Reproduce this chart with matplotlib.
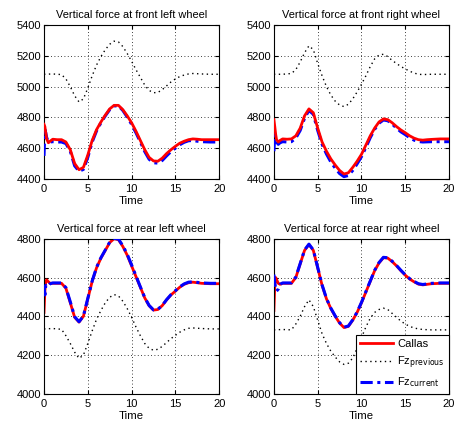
import matplotlib
matplotlib.use('Agg')
import matplotlib.pyplot as plt

plt.rcParams['font.family'] = ['Liberation Sans', 'DejaVu Sans']

# time bases
t = [0, 0.1, 0.2, 0.3, 0.5, 0.7, 1, 1.5, 2, 2.5, 3, 3.5, 4, 4.5, 5,
     5.5, 6, 6.5, 7, 7.5, 8, 8.5, 9, 9.5, 10, 10.5, 11, 11.5, 12, 12.5,
     13, 13.5, 14, 14.5, 15, 15.5, 16, 16.5, 17, 17.5, 18, 19, 20]
tp = [0, 1, 2, 2.5, 3, 3.5, 4, 4.5, 5, 5.5, 6, 6.5, 7, 7.5, 8, 8.5, 9, 9.5,
      10, 10.5, 11, 11.5, 12, 12.5, 13, 13.5, 14, 14.5, 15, 15.5, 16, 16.5,
      17, 18, 19, 20]

# front left
fl_callas = [4755, 4740, 4700, 4660, 4635, 4645, 4658, 4655, 4655, 4640, 4590, 4500, 4460, 4475, 4555,
             4650, 4720, 4770, 4815, 4855, 4878, 4878, 4850, 4810, 4765, 4710, 4650, 4590, 4540, 4517,
             4515, 4535, 4565, 4590, 4612, 4632, 4645, 4655, 4660, 4658, 4655, 4655, 4655]
fl_current = [4550, 4720, 4700, 4670, 4640, 4640, 4642, 4640, 4640, 4630, 4580, 4485, 4450, 4462, 4540,
              4640, 4712, 4765, 4810, 4850, 4874, 4875, 4845, 4802, 4755, 4700, 4640, 4578, 4528, 4505,
              4503, 4520, 4550, 4578, 4600, 4622, 4638, 4648, 4650, 4645, 4642, 4640, 4640]
fl_prev = [5080, 5082, 5078, 5050, 5000, 4940, 4900, 4920, 4990, 5070, 5140, 5195, 5240, 5275, 5295, 5290,
           5260, 5215, 5165, 5110, 5060, 5010, 4975, 4960, 4962, 4980, 5005, 5030, 5050, 5065, 5075, 5082,
           5085, 5082, 5080, 5080]

# front right
fr_callas = [4785, 4740, 4690, 4655, 4640, 4650, 4660, 4658, 4660, 4680, 4730, 4810, 4855, 4830, 4730,
             4640, 4580, 4530, 4490, 4455, 4432, 4440, 4475, 4515, 4560, 4620, 4680, 4730, 4770, 4790,
             4785, 4765, 4740, 4718, 4700, 4680, 4665, 4655, 4652, 4655, 4657, 4660, 4660]
fr_current = [4580, 4690, 4670, 4640, 4625, 4635, 4642, 4640, 4642, 4665, 4715, 4795, 4845, 4820, 4715,
              4625, 4562, 4510, 4470, 4435, 4415, 4422, 4455, 4498, 4545, 4605, 4668, 4722, 4762, 4783,
              4778, 4757, 4730, 4706, 4688, 4668, 4652, 4643, 4640, 4641, 4642, 4642, 4642]
fr_prev = [5080, 5080, 5085, 5110, 5160, 5220, 5265, 5240, 5150, 5070, 5000, 4945, 4905, 4880, 4870, 4885,
           4920, 4965, 5015, 5070, 5130, 5180, 5205, 5210, 5195, 5170, 5150, 5130, 5115, 5100, 5088, 5080,
           5078, 5080, 5080, 5080]

# rear left
rl_callas = [4420, 4530, 4580, 4588, 4578, 4570, 4570, 4570, 4570, 4545, 4470, 4395, 4370, 4400, 4490,
             4580, 4650, 4700, 4740, 4780, 4800, 4795, 4760, 4715, 4660, 4605, 4550, 4495, 4455, 4432,
             4435, 4455, 4485, 4510, 4530, 4550, 4565, 4573, 4576, 4573, 4570, 4568, 4568]
rl_current = [4560, 4510, 4560, 4555, 4555, 4568, 4572, 4572, 4572, 4548, 4475, 4398, 4372, 4402, 4492,
              4582, 4652, 4702, 4742, 4782, 4802, 4798, 4764, 4720, 4665, 4608, 4552, 4497, 4456, 4433,
              4436, 4456, 4486, 4512, 4532, 4552, 4567, 4576, 4578, 4575, 4572, 4570, 4570]
rl_prev = [4335, 4337, 4333, 4300, 4260, 4215, 4183, 4200, 4260, 4325, 4385, 4430, 4470, 4498, 4512, 4505,
           4478, 4440, 4395, 4345, 4300, 4260, 4235, 4225, 4230, 4245, 4265, 4285, 4302, 4318, 4330, 4338,
           4340, 4337, 4335, 4335]

# rear right
rr_callas = [4430, 4560, 4600, 4590, 4570, 4565, 4570, 4570, 4570, 4600, 4670, 4740, 4770, 4740, 4650,
             4560, 4490, 4440, 4400, 4365, 4342, 4348, 4380, 4420, 4470, 4525, 4580, 4635, 4675, 4702,
             4700, 4682, 4660, 4635, 4612, 4592, 4578, 4566, 4562, 4565, 4568, 4570, 4570]
rr_current = [4615, 4570, 4545, 4530, 4540, 4565, 4572, 4572, 4572, 4602, 4672, 4742, 4772, 4742, 4652,
              4562, 4492, 4442, 4402, 4367, 4344, 4350, 4382, 4422, 4472, 4527, 4582, 4637, 4677, 4704,
              4702, 4684, 4662, 4637, 4614, 4594, 4580, 4568, 4564, 4567, 4570, 4572, 4572]
rr_prev = [4330, 4332, 4330, 4360, 4400, 4450, 4485, 4450, 4380, 4310, 4260, 4220, 4190, 4165, 4152, 4158,
           4185, 4235, 4290, 4345, 4390, 4420, 4435, 4442, 4435, 4415, 4395, 4375, 4360, 4348, 4340, 4335,
           4332, 4330, 4330, 4330]

titles = ['Vertical force at front left wheel', 'Vertical force at front right wheel',
          'Vertical force at rear left wheel', 'Vertical force at rear right wheel']
panels = [(fl_callas, fl_prev, fl_current), (fr_callas, fr_prev, fr_current),
          (rl_callas, rl_prev, rl_current), (rr_callas, rr_prev, rr_current)]
ylims = [(4400, 5400), (4400, 5400), (4000, 4800), (4000, 4800)]

fig = plt.figure(figsize=(4.55, 4.24), dpi=100)
rects = [[0.0967, 0.578, 0.385, 0.363], [0.602, 0.578, 0.385, 0.363],
         [0.0967, 0.071, 0.385, 0.366], [0.602, 0.071, 0.385, 0.366]]

for i in range(4):
    ax = fig.add_axes(rects[i])
    callas, prev, cur = panels[i]
    # front panels: red drawn over the blue; rear panels: blue on top
    red_z = 4 if i < 2 else 2
    ax.plot(t, callas, color='red', lw=2, label='Callas', zorder=red_z)
    ax.plot(tp, prev, color='black', lw=1, ls=(0, (1, 2.5)), label=r'Fz$_{\mathrm{previous}}$', zorder=2)
    ax.plot(t, cur, color='blue', lw=2.2, ls=(0, (4, 1.5, 1, 1.5)), label=r'Fz$_{\mathrm{current}}$', zorder=3)
    ax.set_xlim(0, 20)
    ax.set_ylim(*ylims[i])
    ax.set_xticks([0, 5, 10, 15, 20])
    ax.set_yticks(range(ylims[i][0], ylims[i][1] + 1, 200))
    ax.grid(True, color='black', ls=(0, (1, 3)), lw=0.6)
    ax.tick_params(direction='in', top=True, right=True, labelsize=8, length=3)
    ax.tick_params(axis='x', pad=4)
    ax.tick_params(axis='y', pad=2)
    ax.set_title(titles[i], fontsize=7.9, pad=5)
    ax.set_xlabel('Time', fontsize=8.2, labelpad=1)
    for s in ax.spines.values():
        s.set_linewidth(0.8)
    if i == 3:
        leg = ax.legend(loc='lower right', fontsize=8, fancybox=False,
                        edgecolor='black', framealpha=1, borderaxespad=0,
                        handlelength=2.9, labelspacing=0.45, borderpad=0.4,
                        handletextpad=0.4)
        leg.get_frame().set_linewidth(0.8)

plt.savefig('out.png', dpi=100)
